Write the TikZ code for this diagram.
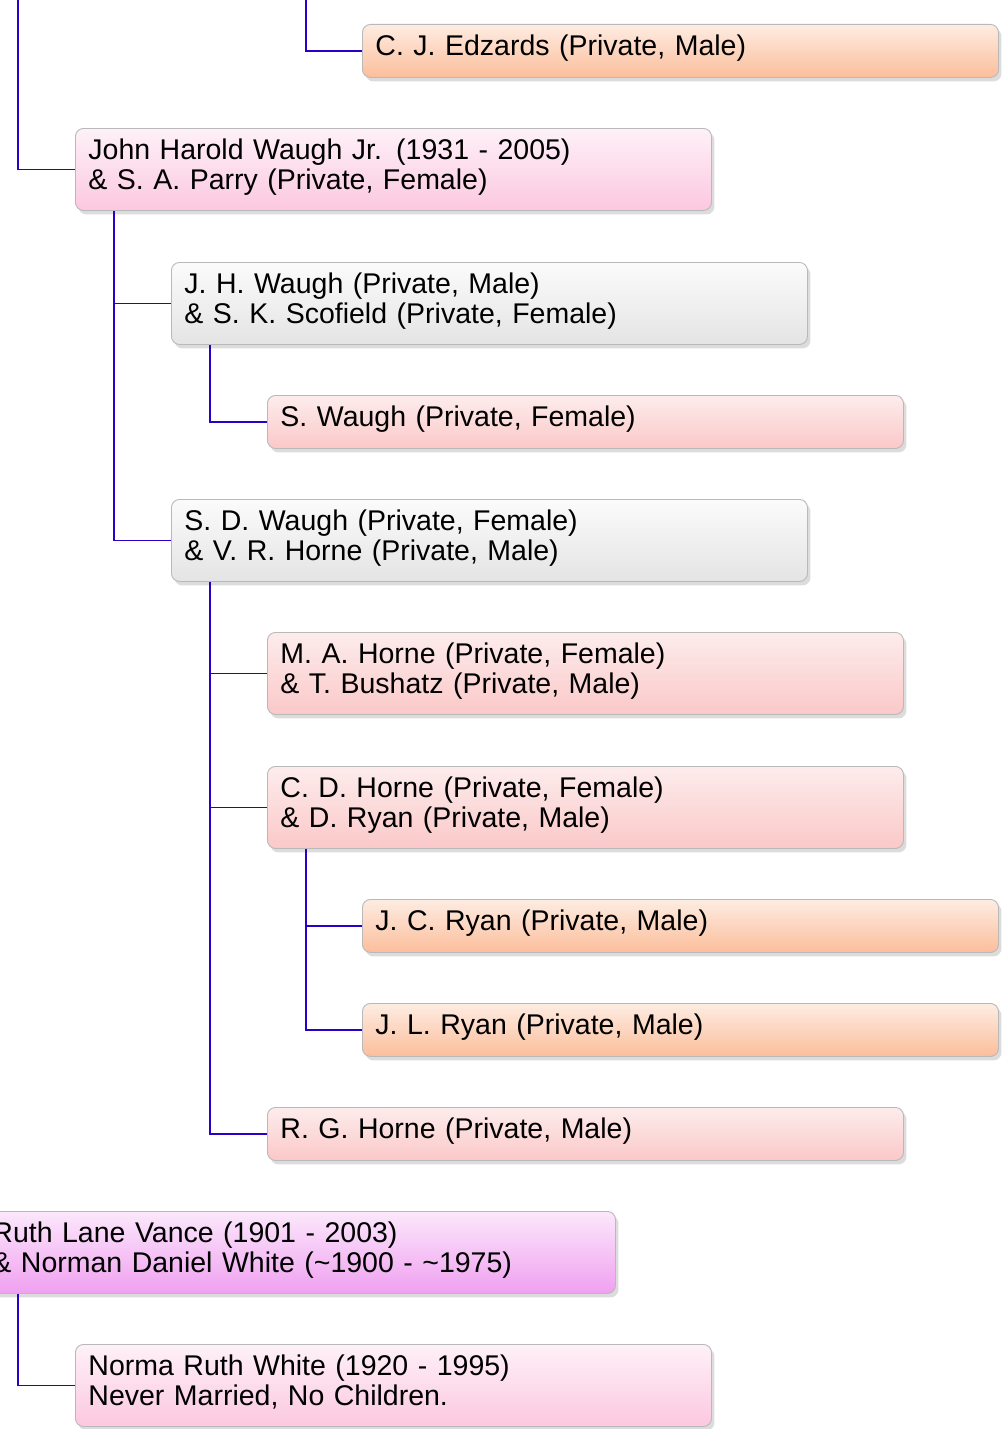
\documentclass[tikz,border=0pt]{standalone}
\usepackage{fontspec}
\setmainfont{Liberation Sans}
\usetikzlibrary{shadows,calc}
\definecolor{lineblue}{RGB}{40,0,200}
\definecolor{orT}{RGB}{253,236,226}
\definecolor{orB}{RGB}{252,190,155}
\definecolor{pkT}{RGB}{253,241,247}
\definecolor{pkB}{RGB}{252,200,224}
\definecolor{gyT}{RGB}{251,251,251}
\definecolor{gyB}{RGB}{228,228,228}
\definecolor{rdT}{RGB}{253,236,236}
\definecolor{rdB}{RGB}{251,200,200}
\definecolor{mgT}{RGB}{251,232,251}
\definecolor{mgB}{RGB}{240,160,240}
\definecolor{bord}{RGB}{185,185,185}
\tikzset{
  box/.style={draw=bord, line width=0.9pt, rounded corners=8pt, anchor=north west,
    minimum width=636pt, text width=610pt, align=left, inner xsep=13pt, inner ysep=0pt,
    font=\fontsize{28.5}{29.5}\selectfont,
    execute at end node={\rule[-11pt]{0pt}{1pt}},
    drop shadow={shadow xshift=3pt, shadow yshift=-4pt, opacity=0.3, fill=black!45}},
  onel/.style={box, minimum height=53pt},
  twol/.style={box, minimum height=82pt},
  orange/.style={top color=orT, bottom color=orB},
  pink/.style={top color=pkT, bottom color=pkB},
  grey/.style={top color=gyT, bottom color=gyB},
  lred/.style={top color=rdT, bottom color=rdB},
  mag/.style={top color=mgT, bottom color=mgB},
  conn/.style={draw=lineblue, line width=1.3pt}
}
\begin{document}
\begin{tikzpicture}[x=1pt,y=-1pt]
\useasboundingbox (0,0) rectangle (1008,1429);
\node[onel,orange] (edz) at (362,24) {C. J. Edzards (Private, Male)};
\node[twol,pink] (jhwj) at (75,128) {John Harold Waugh Jr. (1931 - 2005)\\\& S. A. Parry (Private, Female)};
\node[twol,grey] (jhw) at (171,262) {J. H. Waugh (Private, Male)\\\& S. K. Scofield (Private, Female)};
\node[onel,lred] (sw) at (267,395) {S. Waugh (Private, Female)};
\node[twol,grey] (sdw) at (171,499) {S. D. Waugh (Private, Female)\\\& V. R. Horne (Private, Male)};
\node[twol,lred] (mah) at (267,632) {M. A. Horne (Private, Female)\\\& T. Bushatz (Private, Male)};
\node[twol,lred] (cdh) at (267,766) {C. D. Horne (Private, Female)\\\& D. Ryan (Private, Male)};
\node[onel,orange] (jcr) at (362,899) {J. C. Ryan (Private, Male)};
\node[onel,orange] (jlr) at (362,1003) {J. L. Ryan (Private, Male)};
\node[onel,lred] (rgh) at (267,1107) {R. G. Horne (Private, Male)};
\node[twol,mag] (rlv) at (-21,1211) {Ruth Lane Vance (1901 - 2003)\\\& Norman Daniel White (\textasciitilde1900 - \textasciitilde1975)};
\node[twol,pink] (nrw) at (75,1344) {Norma Ruth White (1920 - 1995)\\Never Married, No Children.};
\coordinate (topA) at (18,-2);
\coordinate (topB) at (306,-2);
\draw[conn] (topA) |- (jhwj.west);
\draw[conn] (topB) |- (edz.west);
\draw[conn] ($(jhwj.south west)+(39,0)$) |- (jhw.west);
\draw[conn] ($(jhwj.south west)+(39,0)$) |- (sdw.west);
\draw[conn] ($(jhw.south west)+(39,0)$) |- (sw.west);
\draw[conn] ($(sdw.south west)+(39,0)$) |- (mah.west);
\draw[conn] ($(sdw.south west)+(39,0)$) |- (cdh.west);
\draw[conn] ($(sdw.south west)+(39,0)$) |- (rgh.west);
\draw[conn] ($(cdh.south west)+(39,0)$) |- (jcr.west);
\draw[conn] ($(cdh.south west)+(39,0)$) |- (jlr.west);
\draw[conn] ($(rlv.south west)+(39,0)$) |- (nrw.west);
\end{tikzpicture}
\end{document}
